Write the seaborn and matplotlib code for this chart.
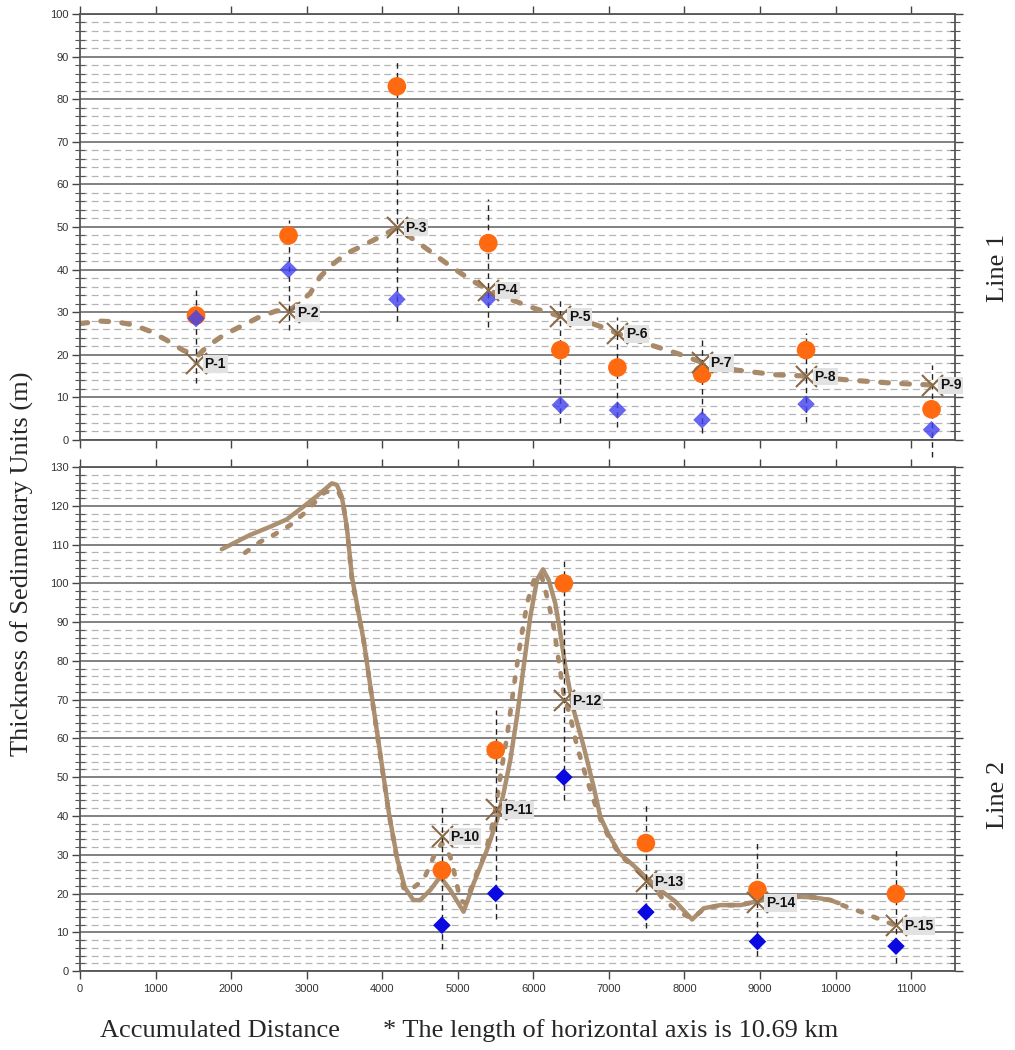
import numpy as np
import matplotlib
matplotlib.use("Agg")
import matplotlib.pyplot as plt
from matplotlib.ticker import MultipleLocator
import seaborn as sns

# ---------------- Line 1 (top panel) ----------------
l1_names = ["P-1", "P-2", "P-3", "P-4", "P-5", "P-6", "P-7", "P-8", "P-9"]
l1_x = [1536, 2760, 4194, 5404, 6358, 7113, 8233, 9610, 11271]
l1_cross = [18, 30, 50, 35.3, 29, 25, 18.2, 15, 13]
l1_orange = [29.2, 48, 83, 46.2, 21.1, 17, 15.5, 21.1, 7.2]
l1_blue = [28.5, 40, 33, 33.2, 8.2, 7, 4.7, 8.4, 2.4]
l1_range_top = [35.2, 51.6, 89, 56.5, 33.6, 28.9, 23.5, 25.2, 17.6]
l1_range_bot = [13.3, 25.8, 28, 26.6, 4, 3.1, 1.6, 4.3, -4]
l1_curve_x = [0, 265, 490, 710, 930, 1150, 1370, 1560, 1680, 1900, 2120, 2380,
              2600, 2760, 2914, 3046, 3178, 3355, 3530, 3708, 3929, 4194, 4556,
              4917, 5180, 5404, 5710, 6014, 6358, 6702, 6960, 7113, 7483, 7907,
              8233, 8689, 9212, 9610, 10154, 10782, 11271]
l1_curve_y = [27.3, 27.9, 27.7, 27.0, 25.5, 23.4, 21.0, 19.8, 21.9, 24.6, 26.6, 28.9,
              30.3, 30.2, 32.4, 34.4, 38.3, 41.4, 43.8, 45.3, 47.3, 49.8, 45.3,
              40.6, 37.5, 35.2, 32.9, 30.9, 29.0, 27.8, 26.2, 25.0, 22.7, 20.3,
              18.2, 16.4, 15.3, 15.0, 14.1, 13.3, 12.9]

# ---------------- Line 2 (bottom panel) ----------------
l2_names = ["P-10", "P-11", "P-12", "P-13", "P-14", "P-15"]
l2_x = [4790, 5502, 6404, 7490, 8967, 10800]
l2_cross = [34.8, 41.7, 69.8, 23.2, 17.7, 11.8]
l2_orange = [26, 57, 100, 33, 20.9, 19.9]
l2_blue = [11.8, 20, 50, 15.2, 7.6, 6.4]
l2_range_top = [43, 67.3, 105.8, 43.6, 33.3, 31.8]
l2_range_bot = [5.6, 13.5, 44, 11, 3.9, 2.2]
l2_solid_x = [1877, 2252, 2517, 2737, 2958, 3135, 3334, 3400, 3466, 3532, 3599, 3756,
              3867, 3978, 4089, 4200, 4300, 4413, 4503, 4636, 4768, 4901, 5077, 5210,
              5386, 5519, 5607, 5695, 5784, 5872, 5960, 6049, 6128, 6203, 6291, 6358,
              6424, 6534, 6667, 6799, 6887, 6989, 7144, 7344, 7610, 7876, 8102, 8256,
              8477, 8742, 8940, 9139, 9448, 9713, 9934, 10040]
l2_solid_y = [108.8, 112.5, 114.6, 116.5, 119.8, 122.5, 125.8, 125.4, 122.3, 114.6, 101.7, 85.1,
              70.3, 55.5, 40.7, 28.8, 21.5, 18.3, 18.3, 20.9, 24.3, 20.9, 15.3, 22.6,
              31.2, 38.9, 45.9, 54.4, 65.6, 78.5, 91.4, 100.9, 103.6, 100.9, 94.8, 87.1,
              78.5, 67.3, 57.9, 47.5, 39.8, 35.5, 30.3, 26.9, 21.9, 18.0, 13.3, 16.2,
              17.0, 17.0, 17.9, 18.8, 19.2, 19.0, 18.3, 17.5]
l2_dotted_x = [2185, 2384, 2583, 2781, 2958, 3113, 3245, 3421, 3480, 3540, 3599, 3756,
               3867, 3978, 4089, 4200, 4283, 4371, 4547, 4702, 4790, 4901, 4967, 5033,
               5100, 5254, 5364, 5453, 5497, 5563, 5651, 5740, 5830, 5920, 6010, 6100,
               6137, 6203, 6269, 6335, 6401, 6490, 6579, 6700, 6800, 6900, 7000, 7144,
               7344, 7521, 7699, 7903, 8102, 8256, 8477, 8742, 8940, 9139, 9448, 9713,
               9934, 10088, 10331, 10552, 10773, 11037, 11300]
l2_dotted_y = [107.9, 110.7, 112.7, 115.0, 117.9, 121.0, 123.6, 123.6, 121.0, 113.0, 101.0, 85.0,
               70.0, 55.0, 40.5, 28.5, 21.4, 20.9, 23.5, 30.4, 33.0, 29.5, 24.3, 18.3,
               17.5, 25.3, 30.4, 37.2, 41.5, 50.1, 60.4, 73.0, 85.0, 95.0, 101.0, 102.5,
               100.0, 94.8, 88.8, 80.2, 71.6, 65.6, 57.9, 50.0, 44.0, 38.5, 34.5, 30.0,
               26.5, 23.9, 19.0, 15.5, 13.5, 16.0, 17.0, 17.0, 17.9, 18.8, 19.2, 19.0,
               18.3, 17.0, 15.3, 13.6, 11.9, 13.2, 13.6]

x_ticks = list(range(0, 12000, 1000))

ORANGE = "#ff6a10"
BLUE_TOP = "#4040f0"
BLUE_BOT = "#0a0ae0"
BROWN = "#8b6a48"
TAN = "#a88a6a"

sns.set_style("white")
plt.rcParams["font.family"] = ["Liberation Sans", "DejaVu Sans"]

fig = plt.figure(figsize=(10.15, 10.5), dpi=100)
ax1 = fig.add_axes([0.0788, 0.581, 0.862, 0.4057])
ax2 = fig.add_axes([0.0788, 0.0752, 0.862, 0.4800])


def style_axes(ax, ymax, show_xlabels):
    ax.set_xlim(0, 11580)
    ax.set_ylim(0, ymax)
    ax.set_xticks(x_ticks)
    ax.yaxis.set_major_locator(MultipleLocator(10))
    ax.yaxis.set_minor_locator(MultipleLocator(2))
    ax.set_axisbelow(True)
    ax.grid(False)
    ax.grid(which="major", axis="y", color="#5f5f5f", lw=1.1)
    ax.grid(which="minor", axis="y", color="#b4b4b4", lw=0.9, ls=(0, (5.5, 3.5)))
    ax.tick_params(axis="y", which="major", direction="out", length=6, width=1,
                   color="#444", labelsize=8, labelcolor="#333", left=True, right=True, pad=2)
    ax.tick_params(axis="y", which="minor", direction="inout", length=7, width=0.8,
                   color="#555", left=True, right=True)
    ax.tick_params(axis="x", which="major", direction="out", length=6, width=1,
                   color="#444", labelsize=8, labelcolor="#333", top=True, bottom=True,
                   labelbottom=show_xlabels, pad=3)
    for sp in ax.spines.values():
        sp.set_visible(True)
        sp.set_color("#555")
        sp.set_linewidth(1.3)
    ax.set_xlabel("")
    ax.set_ylabel("")


def draw_panel(ax, names, xs, cross, orange, blue, rtop, rbot, blue_color, blue_alpha, clip):
    ax.vlines(xs, rbot, rtop, colors="#222", lw=1.0, linestyles=(0, (4, 3)),
              zorder=3, clip_on=clip)
    sns.scatterplot(x=xs, y=orange, ax=ax, color=ORANGE, s=180, marker="o",
                    edgecolor="none", zorder=4, legend=False)
    sns.scatterplot(x=xs, y=blue, ax=ax, color=blue_color, s=80, marker="D",
                    edgecolor="none", alpha=blue_alpha, zorder=5, legend=False)
    sns.scatterplot(x=xs, y=cross, ax=ax, color=BROWN, s=230, marker="x",
                    linewidth=1.5, zorder=6, legend=False)
    for n, x, y in zip(names, xs, cross):
        ax.annotate(n, (x, y), xytext=(6, -0.5), textcoords="offset points",
                    fontsize=10, fontweight="bold", va="center", ha="left", color="#111",
                    bbox=dict(boxstyle="square,pad=0.12", fc="#e2e2e2", ec="none"),
                    zorder=7, annotation_clip=False)


# top panel
sns.lineplot(x=l1_curve_x, y=l1_curve_y, ax=ax1, sort=False, estimator=None,
             color=TAN, lw=3.7, zorder=2)
ln = ax1.lines[-1]
ln.set_linestyle((0, (1.5, 2.6)))
ln.set_dash_capstyle("round")
draw_panel(ax1, l1_names, l1_x, l1_cross, l1_orange, l1_blue, l1_range_top,
           l1_range_bot, BLUE_TOP, 0.8, False)
style_axes(ax1, 100, False)

# bottom panel
sns.lineplot(x=l2_solid_x, y=l2_solid_y, ax=ax2, sort=False, estimator=None,
             color=TAN, lw=3.2, alpha=0.95, zorder=2)
ax2.lines[-1].set_solid_capstyle("round")
sns.lineplot(x=l2_dotted_x, y=l2_dotted_y, ax=ax2, sort=False, estimator=None,
             color=TAN, lw=3.4, zorder=2)
ln = ax2.lines[-1]
ln.set_linestyle((0, (0.9, 2.6)))
ln.set_dash_capstyle("round")
draw_panel(ax2, l2_names, l2_x, l2_cross, l2_orange, l2_blue, l2_range_top,
           l2_range_bot, BLUE_BOT, 1.0, True)
style_axes(ax2, 130, True)

serif = ["Liberation Serif", "DejaVu Serif"]
fig.text(0.022, 0.463, "Thickness of Sedimentary Units (m)", rotation=90,
         ha="center", va="center", fontsize=19, family=serif)
fig.text(0.983, 0.745, "Line 1", rotation=90, ha="center", va="center",
         fontsize=19, family=serif)
fig.text(0.983, 0.243, "Line 2", rotation=90, ha="center", va="center",
         fontsize=19, family=serif)
fig.text(100 / 1015, 1 - 1031 / 1050, "Accumulated Distance", ha="left", va="center",
         fontsize=19, family=serif)
fig.text(383 / 1015, 1 - 1031 / 1050, "* The length of horizontal axis is 10.69 km",
         ha="left", va="center", fontsize=19, family=serif)

fig.savefig("out.png", dpi=100)
